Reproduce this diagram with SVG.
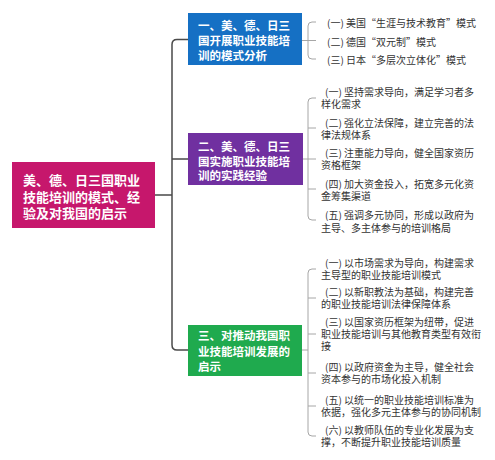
<svg xmlns="http://www.w3.org/2000/svg" width="495" height="460" viewBox="0 0 495 460">
<style>
.box text{font-family:"Noto Sans CJK SC","Noto Sans",sans-serif;font-weight:bold;fill:#fff}
.root text{font-size:13px}
.br text{font-size:11.5px}
.leaf text{font-family:"Noto Sans CJK SC","Noto Sans",sans-serif;font-size:10px;fill:#333}
.trunk{fill:none;stroke:#4a4a4a;stroke-width:1.5}
.brk{fill:none;stroke:#a6a6a6;stroke-width:1}
</style>
<rect width="495" height="460" fill="#fff"/>
<g id="connectors">
<path class="trunk" d="M188,39.5 H177 Q172,39.5 172,44.5 V345 Q172,350 177,350 H188"/>
<path class="trunk" d="M155,195 H172 M172,159 H188"/>
<path class="brk" d="M302,40.5 H316 M316,22 H312 Q308,22 308,26 V55 Q308,59 312,59 H316"/>
<path class="brk" d="M303,159 H316 M316,98 H312 Q308,98 308,102 V216 Q308,220 312,220 H316 M308,128 H316 M308,189 H316"/>
<path class="brk" d="M302,350 H308 M316,269 H312 Q308,269 308,273 V432 Q308,436 312,436 H316 M308,298 H316 M308,334 H316 M308,373 H316 M308,406 H316"/>
</g>
<g id="root" class="box root">
<rect x="12" y="162" width="143" height="66" fill="#C6176C"/>
<text x="23" y="185">美、德、日三国职业<tspan x="23" y="202">技能培训的模式、经</tspan><tspan x="23" y="218">验及对我国的启示</tspan></text>
</g>
<g id="branch1" class="box br">
<rect x="188" y="13" width="114" height="52" fill="#1570C4"/>
<text x="198" y="30">一、美、德、日三<tspan x="198" y="45">国开展职业技能培</tspan><tspan x="198" y="59.5">训的模式分析</tspan></text>
</g>
<g id="branch2" class="box br">
<rect x="188" y="133" width="115" height="52" fill="#7030A0"/>
<text x="198" y="150.5">二、美、德、日三<tspan x="198" y="165.5">国实施职业技能培</tspan><tspan x="198" y="180">训的实践经验</tspan></text>
</g>
<g id="branch3" class="box br">
<rect x="188" y="325" width="114" height="51" fill="#1FAA4E"/>
<text x="198" y="339.5">三、对推动我国职<tspan x="198" y="355.5">业技能培训发展的</tspan><tspan x="198" y="371">启示</tspan></text>
</g>
<g id="leaf1-1" class="leaf"><text x="327" y="26.5">(一) 美国“生涯与技术教育”模式</text></g>
<g id="leaf1-2" class="leaf"><text x="327" y="45.5">(二) 德国“双元制”模式</text></g>
<g id="leaf1-3" class="leaf"><text x="327" y="64">(三) 日本“多层次立体化”模式</text></g>
<g id="leaf2-1" class="leaf"><text x="325" y="96">(一) 坚持需求导向，满足学习者多<tspan x="321" y="108">样化需求</tspan></text></g>
<g id="leaf2-2" class="leaf"><text x="325" y="126.5">(二) 强化立法保障，建立完善的法<tspan x="321" y="138.5">律法规体系</tspan></text></g>
<g id="leaf2-3" class="leaf"><text x="325" y="157">(三) 注重能力导向，健全国家资历<tspan x="321" y="169">资格框架</tspan></text></g>
<g id="leaf2-4" class="leaf"><text x="325" y="188">(四) 加大资金投入，拓宽多元化资<tspan x="321" y="200">金筹集渠道</tspan></text></g>
<g id="leaf2-5" class="leaf"><text x="325" y="219">(五) 强调多元协同，形成以政府为<tspan x="321" y="231.5">主导、多主体参与的培训格局</tspan></text></g>
<g id="leaf3-1" class="leaf"><text x="325" y="267">(一) 以市场需求为导向，构建需求<tspan x="321" y="279">主导型的职业技能培训模式</tspan></text></g>
<g id="leaf3-2" class="leaf"><text x="325" y="296">(二) 以新职教法为基础，构建完善<tspan x="321" y="308">的职业技能培训法律保障体系</tspan></text></g>
<g id="leaf3-3" class="leaf"><text x="325" y="325.5">(三) 以国家资历框架为纽带，促进<tspan x="321" y="337.5">职业技能培训与其他教育类型有效衔</tspan><tspan x="321" y="350">接</tspan></text></g>
<g id="leaf3-4" class="leaf"><text x="325" y="371">(四) 以政府资金为主导，健全社会<tspan x="321" y="383">资本参与的市场化投入机制</tspan></text></g>
<g id="leaf3-5" class="leaf"><text x="325" y="404">(五) 以统一的职业技能培训标准为<tspan x="321" y="416">依据，强化多元主体参与的协同机制</tspan></text></g>
<g id="leaf3-6" class="leaf"><text x="325" y="434">(六) 以教师队伍的专业化发展为支<tspan x="321" y="446">撑，不断提升职业技能培训质量</tspan></text></g>
</svg>
